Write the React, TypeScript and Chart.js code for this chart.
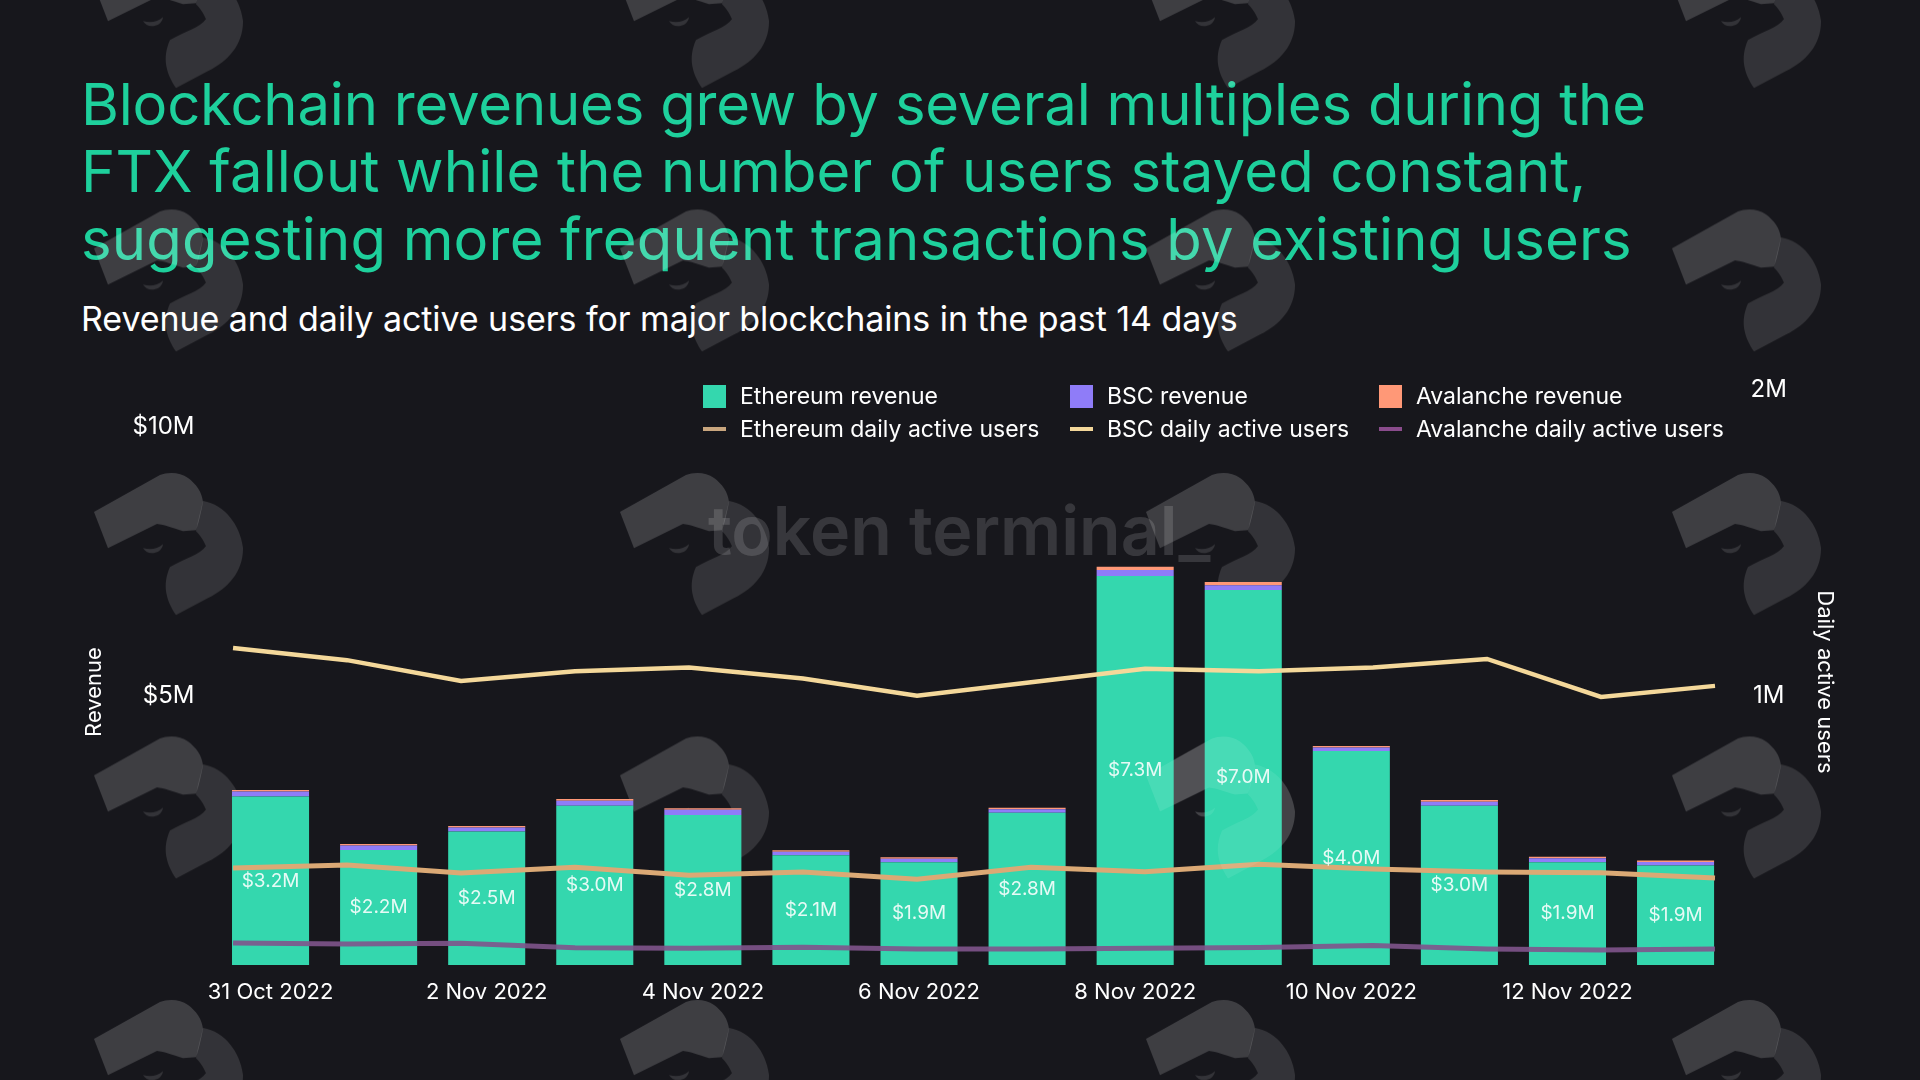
import { useEffect, useRef } from "react";
import { Chart } from "chart.js/auto";

const FONT = "Inter, sans-serif";

const dates = [
  "31 Oct 2022", "1 Nov 2022", "2 Nov 2022", "3 Nov 2022", "4 Nov 2022", "5 Nov 2022", "6 Nov 2022",
  "7 Nov 2022", "8 Nov 2022", "9 Nov 2022", "10 Nov 2022", "11 Nov 2022", "12 Nov 2022", "13 Nov 2022",
];

// revenue in $M
const ethRevenue = [3.13, 2.14, 2.48, 2.96, 2.79, 2.04, 1.91, 2.83, 7.23, 6.97, 3.98, 2.96, 1.91, 1.85];
const bscRevenue = [0.095, 0.08, 0.076, 0.095, 0.095, 0.063, 0.063, 0.063, 0.113, 0.089, 0.063, 0.076, 0.074, 0.063];
const avaxRevenue = [0.03, 0.03, 0.03, 0.03, 0.03, 0.03, 0.03, 0.03, 0.06, 0.06, 0.03, 0.03, 0.03, 0.03];
const barLabels = ["$3.2M", "$2.2M", "$2.5M", "$3.0M", "$2.8M", "$2.1M", "$1.9M", "$2.8M", "$7.3M", "$7.0M", "$4.0M", "$3.0M", "$1.9M", "$1.9M"];

// daily active users in millions
const ethUsers = [0.437, 0.447, 0.421, 0.44, 0.414, 0.424, 0.401, 0.44, 0.425, 0.45, 0.434, 0.424, 0.422, 0.405];
const bscUsers = [1.156, 1.116, 1.048, 1.08, 1.092, 1.056, 1.0, 1.044, 1.088, 1.08, 1.092, 1.12, 0.996, 1.032];
const avaxUsers = [0.1925, 0.189, 0.192, 0.177, 0.175, 0.179, 0.173, 0.173, 0.175, 0.178, 0.184, 0.173, 0.17, 0.173];

const revenueTicks = [5, 10];
const userTicks = [1, 2];

const ETH_GREEN = "#34d7ae";
const BSC_PURPLE = "#8f7cf8";
const AVAX_ORANGE = "#ff9877";
const ETH_LINE = "#dba975";
const BSC_LINE = "#f4d89a";
const AVAX_LINE = "rgba(128, 84, 140, 0.9)";

const legendItems = [
  { label: "Ethereum revenue", color: ETH_GREEN, kind: "box", left: 703, top: 396 },
  { label: "BSC revenue", color: BSC_PURPLE, kind: "box", left: 1070, top: 396 },
  { label: "Avalanche revenue", color: AVAX_ORANGE, kind: "box", left: 1379, top: 396 },
  { label: "Ethereum daily active users", color: "#c9a67e", kind: "line", left: 703, top: 429 },
  { label: "BSC daily active users", color: "#f3d79a", kind: "line", left: 1070, top: 429 },
  { label: "Avalanche daily active users", color: "#8a4c8c", kind: "line", left: 1379, top: 429 },
];

// value labels sit in the middle of the Ethereum segment
const barLabelPlugin = {
  id: "barLabels",
  afterDatasetsDraw(chart: any) {
    const { ctx } = chart;
    const bars = chart.getDatasetMeta(0).data;
    ctx.save();
    ctx.font = `400 19px ${FONT}`;
    ctx.fillStyle = "rgba(255, 255, 255, 0.88)";
    ctx.textAlign = "center";
    ctx.textBaseline = "middle";
    bars.forEach((bar: any, i: number) => {
      ctx.fillText(barLabels[i], bar.x, (bar.y + bar.base) / 2);
    });
    ctx.restore();
  },
};

const usersLine = (label: string, values: number[], color: string, width: number) => ({
  type: "line" as const,
  label,
  data: values.map((y, x) => ({ x, y })),
  borderColor: color,
  borderWidth: width,
  pointRadius: 0,
  tension: 0,
  xAxisID: "xUsers",
  yAxisID: "yUsers",
  order: 1,
});

const revenueBar = (label: string, values: number[], color: string) => ({
  type: "bar" as const,
  label,
  data: values,
  backgroundColor: color,
  xAxisID: "x",
  yAxisID: "yRevenue",
  // not grouped: the hidden line axis would otherwise count as a second bar slot
  grouped: false,
  barPercentage: 0.713,
  categoryPercentage: 1,
  order: 2,
});

function RevenueChart() {
  const canvasRef = useRef<HTMLCanvasElement | null>(null);

  useEffect(() => {
    if (!canvasRef.current) return;
    const chart = new Chart(canvasRef.current, {
      type: "bar",
      data: {
        labels: dates,
        datasets: [
          revenueBar("Ethereum revenue", ethRevenue, ETH_GREEN),
          revenueBar("BSC revenue", bscRevenue, BSC_PURPLE),
          revenueBar("Avalanche revenue", avaxRevenue, AVAX_ORANGE),
          usersLine("Ethereum daily active users", ethUsers, ETH_LINE, 5),
          usersLine("BSC daily active users", bscUsers, BSC_LINE, 4.5),
          usersLine("Avalanche daily active users", avaxUsers, AVAX_LINE, 5),
        ] as any,
      },
      options: {
        animation: false,
        responsive: false,
        layout: { padding: { top: 389.4 } },
        plugins: { legend: { display: false }, tooltip: { enabled: false } },
        scales: {
          x: {
            stacked: true,
            grid: { display: false },
            border: { display: false },
            afterFit: (scale: any) => { scale.height = 115; },
            ticks: {
              autoSkip: false,
              maxRotation: 0,
              padding: 6,
              color: "#ffffff",
              font: { family: FONT, size: 22 },
              callback: (_v: any, i: number) => (i % 2 === 0 ? dates[i] : ""),
            },
          },
          // the lines run wider than the bars, so they get their own hidden x axis
          xUsers: { type: "linear", display: false, offset: false, min: -0.145, max: 13.128 },
          yRevenue: {
            stacked: true,
            position: "left",
            min: 0,
            max: 10.7,
            grid: { display: false },
            border: { display: false },
            afterFit: (scale: any) => { scale.width = 216.5; },
            afterBuildTicks: (scale: any) => { scale.ticks = revenueTicks.map(value => ({ value })); },
            ticks: {
              padding: 14,
              color: "#ffffff",
              font: { family: FONT, size: 24 },
              callback: (v: any) => `$${v}M`,
            },
          },
          yUsers: {
            position: "right",
            min: 0.1207,
            max: 2,
            grid: { display: false },
            border: { display: false },
            afterFit: (scale: any) => { scale.width = 190.4; },
            afterBuildTicks: (scale: any) => { scale.ticks = userTicks.map(value => ({ value })); },
            ticks: {
              padding: 13,
              crossAlign: "center",
              color: "#ffffff",
              font: { family: FONT, size: 24 },
              callback: (v: any) => `${v}M`,
            },
          },
        },
      },
      plugins: [barLabelPlugin],
    } as any);
    return () => chart.destroy();
  }, []);

  return <canvas ref={canvasRef} width={1920} height={1080} style={{ position: "absolute", left: 0, top: 0 }} />;
}

function LogoShape({ light, dark }: { light: number; dark: number }) {
  return (
    <>
      <path
        d="M14,52 L80,15 C88,12 100,12 108,18 C116,24 122,32 123,42 C121,52 119,62 116,70 L103,71 C92,68 85,65 77,64 L28,88 Z"
        fill={`rgba(255,255,255,${light})`}
      />
      <path
        d="M123,41 C145,45 160,65 163,88 C163,112 148,128 128,138 L96,155 C86,140 82,125 90,107 C105,98 120,95 126,86 C123,79 120,75 116,71 C118,60 121,50 123,41 Z"
        fill={`rgba(255,255,255,${dark})`}
      />
      <path d="M63,88 C70,90 78,89 83,84 C82,91 76,93 72,93 C68,93 65,91 63,88 Z" fill={`rgba(255,255,255,${dark})`} />
    </>
  );
}

// repeating logo + wordmark behind the chart
function Watermark() {
  return (
    <svg width={1920} height={1080} style={{ position: "absolute", left: 0, top: 0, pointerEvents: "none" }}>
      <defs>
        <pattern id="logo" patternUnits="userSpaceOnUse" x={80} y={-67} width={526} height={263.5}>
          <LogoShape light={0.17} dark={0.12} />
        </pattern>
      </defs>
      <rect width={1920} height={1080} fill="url(#logo)" />
      <text x={708} y={555} fill="rgba(255,255,255,0.14)" fontFamily={FONT} fontWeight={600} fontSize={68}>
        token terminal_
      </text>
    </svg>
  );
}

// the one logo that shows through the 8 and 9 Nov bars
function TopLogo() {
  return (
    <svg width={1920} height={1080} style={{ position: "absolute", left: 0, top: 0, pointerEvents: "none" }}>
      <g transform="translate(1132, 723.5)">
        <LogoShape light={0.1} dark={0.08} />
      </g>
    </svg>
  );
}

export default function App() {
  return (
    <div style={{ position: "absolute", left: 0, top: 0, width: 1920, height: 1080, background: "#17171c", overflow: "hidden", fontFamily: FONT, color: "#fff" }}>
      <div style={{ position: "absolute", left: 81, top: 71, fontSize: 58, lineHeight: "67.4px", color: "#1ed09c", whiteSpace: "nowrap" }}>
        <span style={{ letterSpacing: -0.2 }}>Blockchain revenues grew by several multiples during the</span>
        <br />
        <span style={{ letterSpacing: 0.16 }}>FTX fallout while the number of users stayed constant,</span>
        <br />
        <span style={{ letterSpacing: 0.18 }}>suggesting more frequent transactions by existing users</span>
      </div>
      <div style={{ position: "absolute", left: 81, top: 297, fontSize: 34, lineHeight: "44px", letterSpacing: -0.07, whiteSpace: "nowrap" }}>
        Revenue and daily active users for major blockchains in the past 14 days
      </div>

      <Watermark />
      <RevenueChart />
      <TopLogo />

      {legendItems.map(item => (
        <div key={item.label} style={{ position: "absolute", left: item.left, top: item.top, height: 0, display: "flex", alignItems: "center", whiteSpace: "nowrap", fontSize: 23 }}>
          <span style={{ width: 23, height: item.kind === "box" ? 23 : 4, background: item.color, marginRight: 14, flex: "none" }} />
          <span>{item.label}</span>
        </div>
      ))}

      <div style={{ position: "absolute", left: 93, top: 692, transform: "translate(-50%, -50%) rotate(-90deg)", fontSize: 22, whiteSpace: "nowrap" }}>Revenue</div>
      <div style={{ position: "absolute", left: 1826, top: 682, transform: "translate(-50%, -50%) rotate(90deg)", fontSize: 22, whiteSpace: "nowrap" }}>Daily active users</div>
    </div>
  );
}
